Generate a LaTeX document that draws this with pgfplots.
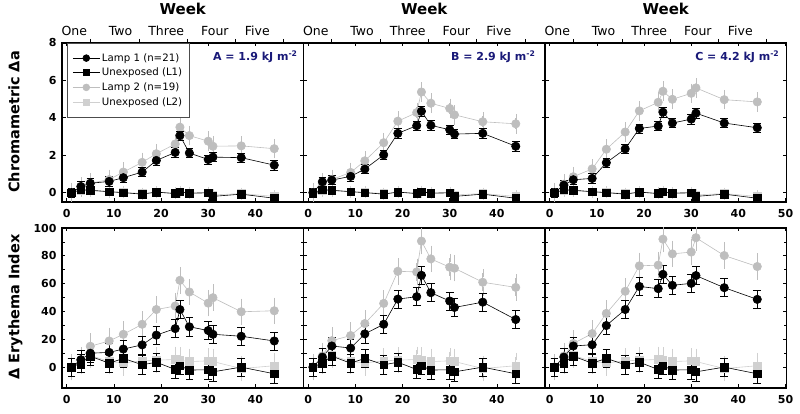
\documentclass[border=0pt]{standalone}
\usepackage{fontspec}
\setmainfont{DejaVu Sans}
\usepackage{pgfplots}
\pgfplotsset{compat=1.18}
\usepackage{pgfplotstable}

\definecolor{lamptwo}{RGB}{190,190,190}
\definecolor{unexptwo}{RGB}{208,208,208}
\definecolor{annot}{RGB}{25,25,120}

% Chromametric delta a
\pgfplotstableread{
x  aL1  aL2  bL1  bL2  cL1  cL2  u1    u2
1  0    0    0    0    0    0    0     0
3  0.33 0.30 0.58 0.50 0.40 0.45 0.15  0.10
5  0.50 0.50 0.67 0.70 0.69 0.85 0.13  0.10
9  0.60 0.70 0.87 1.08 0.76 1.27 0.05  0.05
12 0.80 1.10 1.26 1.70 1.60 2.32 0.00  0.02
16 1.10 1.62 2.02 2.67 2.34 3.24 -0.08 -0.05
19 1.72 2.08 3.17 3.82 3.43 4.37 0.03  0.02
23 2.15 2.60 3.58 4.28 3.56 4.83 -0.05 -0.03
24 3.05 3.50 4.35 5.38 4.30 5.42 0.05  0.05
26 2.12 3.05 3.60 4.78 3.72 4.99 -0.03 0.00
30 1.77 2.75 3.36 4.50 3.93 5.31 -0.01 0.00
31 1.90 2.48 3.13 4.16 4.25 5.60 -0.20 -0.12
37 1.87 2.50 3.17 3.79 3.72 4.97 -0.08 -0.05
44 1.47 2.35 2.48 3.68 3.47 4.85 -0.30 -0.20
}\chroma

% Delta Erythema index
\pgfplotstableread{
x  aL1  aL2  bL1  bL2  cL1  cL2  u1   u2
1  0    0    0    0    0    0    0    0
3  5.3  5    7.2  8    7.2  8    2.9  4
5  10   15   15.2 19   15.2 17   7.9  8.5
9  10.6 18.8 13.7 22.7 16.1 24.1 2.8  4
12 13   23.6 23.9 31.3 29.9 38.6 6.3  3
16 16   30.8 30.8 45.8 41.4 54.5 1.7  4.5
19 23   41.4 48.9 68.9 58   72.8 3.5  5
23 27.7 43.9 50.6 68.4 56.4 73.3 -1.7 5.5
24 41.4 62.4 66   90.6 66.7 92   1    5
26 29   54   53.5 77.8 58.8 81.4 -2.1 4
30 26.3 46   47.5 71.8 60.2 82.7 -1.9 4.5
31 23.6 49.9 42.9 71.1 65.8 93   -3.4 4
37 22.2 39.8 46.7 61   57.1 80.2 0    -1
44 18.8 40.5 34.2 57.3 48.7 72.3 -4.8 1
}\eryth

\pgfplotsset{
  lone/.style={black, line width=0.6pt, mark=*, mark size=4.2pt, mark options={solid, fill=black, draw=black}},
  uone/.style={black, line width=0.6pt, mark=square*, mark size=3.8pt, mark options={solid, fill=black, draw=black}},
  ltwo/.style={lamptwo, line width=0.6pt, mark=*, mark size=4.2pt, mark options={solid, fill=lamptwo, draw=lamptwo}},
  utwo/.style={unexptwo, line width=0.6pt, mark=square*, mark size=3.8pt, mark options={solid, fill=unexptwo, draw=unexptwo}},
  eb/.style={error bars/y dir=both, error bars/y fixed=#1,
     error bars/error bar style={line width=0.6pt},
     error bars/error mark options={rotate=90, mark size=3.8pt, line width=0.6pt}},
  panel/.style={scale only axis, width=241.5pt, xmin=-1, xmax=50.2,
     axis line style={line width=1.8pt},
     tick align=inside, tick style={black, line width=0.7pt},
     major tick length=3.5pt, minor tick length=3pt,
     xtick={0,10,...,40},
     ticklabel style={font=\bfseries\fontsize{11}{12}\selectfont},
     xticklabel style={yshift=-4pt},
     yticklabel style={xshift=-2pt},
     /pgf/number format/assume math mode=true},
  toprow/.style={panel, height=159pt, ymin=-0.5, ymax=8, ytick={0,2,...,8}},
  botrow/.style={panel, height=160pt, ymin=-15, ymax=100, ytick={0,20,...,100}, minor y tick num=1},
  weekaxis/.style={scale only axis, width=241.5pt, height=159pt, xmin=-1, xmax=50.2,
     ymin=0, ymax=1, axis x line*=top, axis y line=none, axis line style={draw=none},
     xtick={5,15.3,25.5,35.7,46}, xticklabels={}, tick align=outside,
     major tick length=4pt, tick style={black, line width=0.7pt},
     extra x ticks={1.6,11.4,21.1,31.4,40.4},
     extra x tick labels={One,Two,Three,Four,Five},
     extra x tick style={tick style={draw=none}},
     ticklabel style={font=\fontsize{12.5}{13}\selectfont},
     xlabel={Week}, xlabel style={font=\bfseries\fontsize{15}{16}\selectfont}},
}

\newcommand{\chromaplots}[2]{%
  \addplot[utwo, eb=0.12, error bars/error bar style={unexptwo}, error bars/error mark options={unexptwo}] table[x=x, y=u2] {\chroma};
  \addplot[ltwo, eb=0.3, error bars/error bar style={lamptwo}, error bars/error mark options={lamptwo}] table[x=x, y=#2] {\chroma};
  \addplot[uone, eb=0.12] table[x=x, y=u1] {\chroma};
  \addplot[lone, eb=0.25] table[x=x, y=#1] {\chroma};
}
\newcommand{\erythplots}[2]{%
  \addplot[utwo, eb=6.5, error bars/error bar style={unexptwo}, error bars/error mark options={unexptwo}] table[x=x, y=u2] {\eryth};
  \addplot[ltwo, eb=6.5, error bars/error bar style={lamptwo}, error bars/error mark options={lamptwo}] table[x=x, y=#2] {\eryth};
  \addplot[uone, eb=6.5] table[x=x, y=u1] {\eryth};
  \addplot[lone, eb=6.5] table[x=x, y=#1] {\eryth};
}

\begin{document}
\begin{tikzpicture}
\path[use as bounding box] (0,0) rectangle (800pt,414pt);

% ---------- top row ----------
\begin{axis}[toprow, at={(62pt,212pt)}, anchor=south west,
  legend style={at={(axis description cs:0.02,1)}, anchor=north west,
    draw=black!70, line width=0.6pt, fill=white,
    nodes={font=\fontsize{10.2}{11}\selectfont, inner ysep=2.2pt},
    inner xsep=5.5pt, inner ysep=8pt, row sep=1pt, cells={anchor=west}},
  legend image code/.code={\draw[mark repeat=2,mark phase=2,#1] plot coordinates {(0cm,0cm) (0.47cm,0cm) (0.94cm,0cm)};}]
  \addlegendimage{lone, mark size=3.4pt}\addlegendentry{Lamp 1 (n=21)}
  \addlegendimage{uone, mark size=3pt}\addlegendentry{Unexposed (L1)}
  \addlegendimage{ltwo, mark size=3.4pt}\addlegendentry{Lamp 2 (n=19)}
  \addlegendimage{utwo, mark size=3pt}\addlegendentry{Unexposed (L2)}
  \chromaplots{aL1}{aL2}
  \node[anchor=north east, font=\bfseries\fontsize{11}{12}\selectfont, text=annot] at (rel axis cs:0.99,0.975) {A = 1.9 kJ m\textsuperscript{-2}};
\end{axis}
\begin{axis}[weekaxis, at={(62pt,212pt)}, anchor=south west]
\end{axis}

\begin{axis}[toprow, at={(303.5pt,212pt)}, anchor=south west, yticklabels={}]
  \chromaplots{bL1}{bL2}
  \node[anchor=north east, font=\bfseries\fontsize{11}{12}\selectfont, text=annot] at (rel axis cs:0.975,0.975) {B = 2.9 kJ m\textsuperscript{-2}};
\end{axis}
\begin{axis}[weekaxis, at={(303.5pt,212pt)}, anchor=south west]
\end{axis}

\begin{axis}[toprow, at={(545pt,212pt)}, anchor=south west, yticklabels={}, xtick={0,10,...,50}]
  \chromaplots{cL1}{cL2}
  \node[anchor=north east, font=\bfseries\fontsize{11}{12}\selectfont, text=annot] at (rel axis cs:0.985,0.975) {C = 4.2 kJ m\textsuperscript{-2}};
\end{axis}
\begin{axis}[weekaxis, at={(545pt,212pt)}, anchor=south west]
\end{axis}

% ---------- bottom row ----------
\begin{axis}[botrow, at={(62pt,26pt)}, anchor=south west]
  \erythplots{aL1}{aL2}
\end{axis}
\begin{axis}[botrow, at={(303.5pt,26pt)}, anchor=south west, yticklabels={}]
  \erythplots{bL1}{bL2}
\end{axis}
\begin{axis}[botrow, at={(545pt,26pt)}, anchor=south west, yticklabels={}, xtick={0,10,...,50}]
  \erythplots{cL1}{cL2}
\end{axis}

% y labels
\node[rotate=90, anchor=base, font=\bfseries\fontsize{14.5}{15}\selectfont] at (19.5pt,292pt) {Chromametric Δa};
\node[rotate=90, anchor=base, font=\bfseries\fontsize{14.5}{15}\selectfont] at (19.5pt,107pt) {Δ Erythema Index};
\end{tikzpicture}
\end{document}
